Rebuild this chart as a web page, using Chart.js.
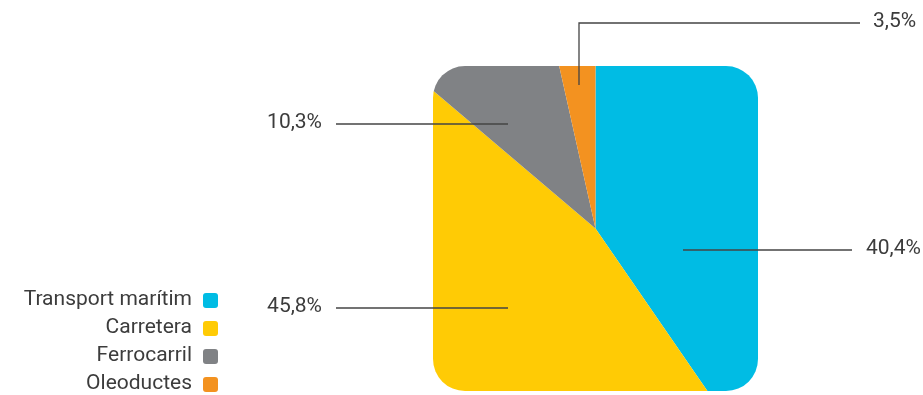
<!DOCTYPE html>
<html>
<head>
<meta charset="utf-8">
<script src="https://cdn.jsdelivr.net/npm/chart.js@4.4.0/dist/chart.umd.min.js"></script>
<style>
  html, body { margin: 0; padding: 0; background: #fff; }
  #wrap { width: 923px; height: 395px; }
</style>
</head>
<body>
<div id="wrap"><canvas id="pieChart" width="923" height="395"></canvas></div>
<script>
// Repartiment per mode de transport (%)
const categories = ['Transport marítim', 'Carretera', 'Ferrocarril', 'Oleoductes'];
const shares = [40.4, 45.8, 10.3, 3.5];
const colors = ['#00bce4', '#ffcb05', '#808285', '#f39220'];

// Retall del pastís en forma de quadrat arrodonit
const roundedClip = {
  id: 'roundedClip',
  beforeDatasetsDraw(chart, args, opts) {
    const arc = chart.getDatasetMeta(0).data[0];
    const ctx = chart.ctx;
    const h = opts.half;
    ctx.save();
    ctx.beginPath();
    ctx.roundRect(arc.x - h, arc.y - h, h * 2, h * 2, opts.corner);
    ctx.clip();
  },
  afterDatasetsDraw(chart) {
    chart.ctx.restore();
  }
};

// Etiquetes amb línies guia (ancoratge relatiu al centre del pastís)
const leaderLabels = {
  id: 'leaderLabels',
  afterDraw(chart, args, opts) {
    const ctx = chart.ctx;
    const meta = chart.getDatasetMeta(0);
    ctx.save();
    ctx.font = opts.font;
    ctx.fillStyle = opts.color;
    ctx.strokeStyle = opts.lineColor;
    ctx.lineWidth = 1.3;
    meta.data.forEach((arc, i) => {
      const cfg = opts.items[i];
      const ax = arc.x + cfg.dx;
      const ay = arc.y + cfg.dy;
      const text = shares[i].toLocaleString('ca-ES', { minimumFractionDigits: 1 }) + '%';
      ctx.beginPath();
      ctx.moveTo(ax, ay);
      let ty = ay;
      if (cfg.elbowY !== undefined) {
        ctx.lineTo(ax, cfg.elbowY);
        ty = cfg.elbowY;
      }
      ctx.lineTo(cfg.lineEnd, ty);
      ctx.stroke();
      ctx.textBaseline = 'middle';
      ctx.textAlign = cfg.align;
      ctx.fillText(text, cfg.textX, ty - 1);
    });
    ctx.restore();
  }
};

// Llegenda a l'esquerra, text alineat a la dreta
const sideLegend = {
  id: 'sideLegend',
  afterDraw(chart, args, opts) {
    const ctx = chart.ctx;
    ctx.save();
    ctx.font = opts.font;
    ctx.textAlign = 'right';
    ctx.textBaseline = 'middle';
    chart.data.labels.forEach((label, i) => {
      const y = opts.top + i * opts.step;
      ctx.fillStyle = opts.color;
      ctx.fillText(label, opts.textRight, y);
      ctx.fillStyle = chart.data.datasets[0].backgroundColor[i];
      ctx.beginPath();
      ctx.roundRect(opts.textRight + 11, y - 7, 15, 15, 3);
      ctx.fill();
    });
    ctx.restore();
  }
};

const ctx = document.getElementById('pieChart').getContext('2d');
new Chart(ctx, {
  type: 'pie',
  data: {
    labels: categories,
    datasets: [{
      data: shares,
      backgroundColor: colors,
      borderWidth: 0,
      radius: 240
    }]
  },
  options: {
    responsive: false,
    animation: false,
    events: [],
    layout: {
      padding: { left: 268, top: 62, right: 0, bottom: 0 }
    },
    plugins: {
      legend: { display: false },
      tooltip: { enabled: false },
      roundedClip: { half: 162.5, corner: 32 },
      leaderLabels: {
        font: '21px Roboto',
        color: '#3c3c3c',
        lineColor: '#444',
        items: [
          { dx: 87.5, dy: 21.5, lineEnd: 852, textX: 866, align: 'left' },
          { dx: -87.5, dy: 79.5, lineEnd: 336, textX: 322, align: 'right' },
          { dx: -87.5, dy: -104.5, lineEnd: 336, textX: 322, align: 'right' },
          { dx: -16.5, dy: -143.5, elbowY: 23, lineEnd: 860, textX: 873, align: 'left' }
        ]
      },
      sideLegend: {
        font: '21px Roboto',
        color: '#3c3c3c',
        textRight: 192,
        top: 300,
        step: 28
      }
    }
  },
  plugins: [roundedClip, leaderLabels, sideLegend]
});
</script>
</body>
</html>
